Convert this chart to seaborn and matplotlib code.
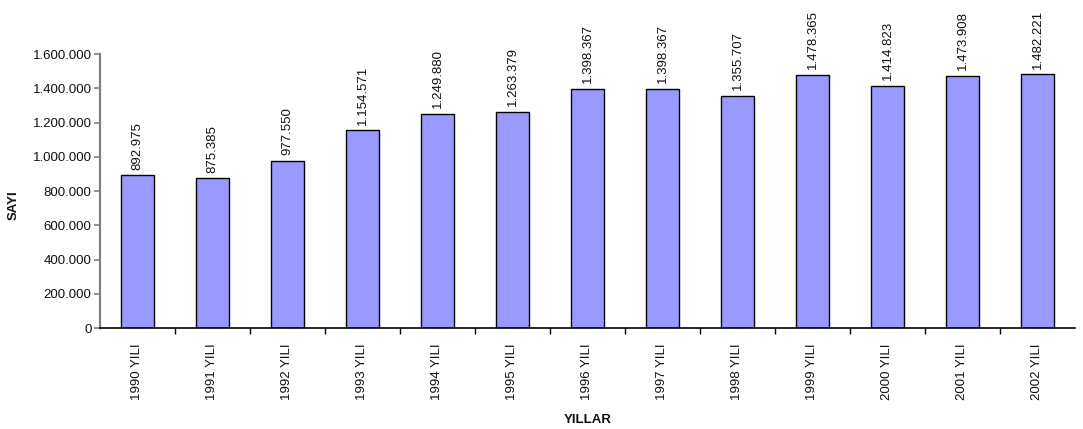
import matplotlib
matplotlib.use("Agg")
import matplotlib.pyplot as plt
import matplotlib.ticker as mticker
import seaborn as sns
import pandas as pd

years = ["1990 YILI", "1991 YILI", "1992 YILI", "1993 YILI", "1994 YILI",
         "1995 YILI", "1996 YILI", "1997 YILI", "1998 YILI", "1999 YILI",
         "2000 YILI", "2001 YILI", "2002 YILI"]
counts = [892975, 875385, 977550, 1154571, 1249880, 1263379, 1398367,
          1398367, 1355707, 1478365, 1414823, 1473908, 1482221]

def dotted(v):
    return f"{int(v):,}".replace(",", ".")

sns.set_theme(style="white")
plt.rcParams["font.family"] = ["Liberation Sans", "DejaVu Sans"]

df = pd.DataFrame({"yil": years, "sayi": counts})

fig = plt.figure(figsize=(10.83, 4.29), dpi=100)
ax = fig.add_axes([0.0923, 0.2354, 0.9003, 0.6387])

sns.barplot(data=df, x="yil", y="sayi", color="#9999FF", saturation=1,
            width=0.43, edgecolor="black", linewidth=1, ax=ax)

for i, v in enumerate(counts):
    ax.annotate(dotted(v), (i, v), xytext=(0, 4), textcoords="offset points",
                rotation=90, ha="center", va="bottom", fontsize=9.5,
                color="#111111")

ax.set_xlim(-0.5, len(years) - 0.5)
ax.set_ylim(0, 1600000)
ax.yaxis.set_major_locator(mticker.MultipleLocator(200000))
ax.yaxis.set_major_formatter(mticker.FuncFormatter(lambda v, p: dotted(v)))

# category ticks sit between bars
ax.set_xticks(range(len(years)))
ax.set_xticklabels(years, rotation=90, fontsize=9.5, color="#111111")
ax.tick_params(axis="x", length=0, pad=11)
ax.set_xticks([i + 0.5 for i in range(len(years) - 1)], minor=True)
ax.tick_params(axis="x", which="minor", bottom=True, length=4, width=1,
               color="black", direction="out")
ax.tick_params(axis="y", left=True, length=4, width=1.2, color="#808080",
               labelsize=9.5, labelcolor="#111111", pad=2)

for s in ["top", "right"]:
    ax.spines[s].set_visible(False)
ax.spines["left"].set_color("#808080")
ax.spines["left"].set_linewidth(1.6)
ax.spines["bottom"].set_color("black")
ax.spines["bottom"].set_linewidth(1.2)

ax.set_xlabel("YILLAR", fontsize=9.5, fontweight="bold", color="#111111",
              labelpad=10)
ax.set_ylabel("SAYI", fontsize=9.5, fontweight="bold", color="#111111")
ax.yaxis.set_label_coords(-0.082, 0.45)

fig.savefig("out.png", dpi=100, facecolor="white")
